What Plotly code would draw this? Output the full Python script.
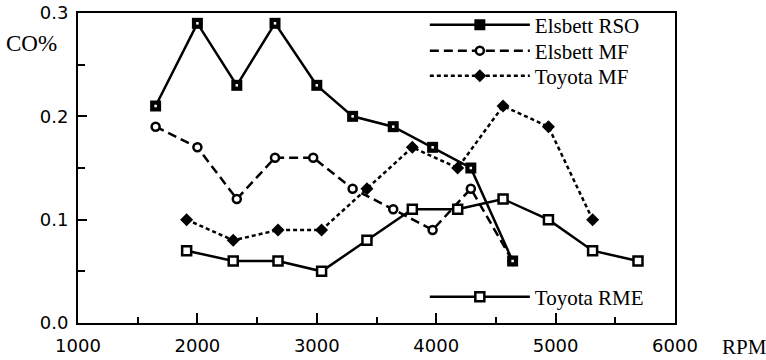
import plotly.graph_objects as go

# ---- data ----
rso_rpm = [1650, 2000, 2330, 2650, 3000, 3300, 3640, 3970, 4290, 4640]
rso_co = [0.21, 0.29, 0.23, 0.29, 0.23, 0.20, 0.19, 0.17, 0.15, 0.06]

emf_rpm = [1650, 2000, 2330, 2650, 2970, 3300, 3640, 3970, 4290, 4640]
emf_co = [0.19, 0.17, 0.12, 0.16, 0.16, 0.13, 0.11, 0.09, 0.13, 0.06]

tmf_rpm = [1910, 2300, 2675, 3040, 3420, 3800, 4180, 4560, 4940, 5310]
tmf_co = [0.10, 0.08, 0.09, 0.09, 0.13, 0.17, 0.15, 0.21, 0.19, 0.10]

rme_rpm = [1910, 2300, 2675, 3040, 3420, 3800, 4180, 4560, 4940, 5310, 5690]
rme_co = [0.07, 0.06, 0.06, 0.05, 0.08, 0.11, 0.11, 0.12, 0.10, 0.07, 0.06]

x_ticks = [1000, 2000, 3000, 4000, 5000, 6000]
y_ticks = [0.0, 0.1, 0.2, 0.3]

SERIF = "Liberation Serif, Times New Roman, serif"
SANS = "DejaVu Sans, Arial, sans-serif"

fig = go.Figure()

fig.add_trace(go.Scatter(
    x=emf_rpm, y=emf_co, name="Elsbett MF", mode="lines+markers",
    line=dict(color="black", width=2.5, dash="9px,5px"),
    marker=dict(symbol="circle", size=8, color="white", line=dict(color="black", width=2.5)),
    legend="legend2"))
fig.add_trace(go.Scatter(
    x=tmf_rpm, y=tmf_co, name="Toyota MF", mode="lines+markers",
    line=dict(color="black", width=2.5, dash="4px,3px"),
    marker=dict(symbol="diamond", size=10, color="black"),
    legend="legend3"))
fig.add_trace(go.Scatter(
    x=rme_rpm, y=rme_co, name="Toyota RME", mode="lines+markers",
    line=dict(color="black", width=2.5),
    marker=dict(symbol="square", size=9, color="white", line=dict(color="black", width=2.5)),
    legend="legend4"))
fig.add_trace(go.Scatter(
    x=rso_rpm, y=rso_co, name="Elsbett RSO", mode="lines+markers",
    line=dict(color="black", width=2.5),
    marker=dict(symbol="square", size=11, color="black"),
    legend="legend"))
fig.add_trace(go.Scatter(
    x=rso_rpm, y=rso_co, mode="markers", showlegend=False, hoverinfo="skip",
    marker=dict(symbol="square", size=2.5, color="white")))

L = 78
T = 13
PW = 597
PH = 310


def leg(ycenter_px):
    return dict(x=(432 - L) / PW - 0.012, y=(T + PH - ycenter_px) / PH,
                xanchor="left", yanchor="middle",
                font=dict(family=SERIF, size=21, color="black"),
                bgcolor="rgba(0,0,0,0)", itemwidth=100)


fig.update_layout(
    width=766, height=360,
    margin=dict(l=L, r=766 - L - PW, t=T, b=360 - T - PH, autoexpand=False),
    paper_bgcolor="white", plot_bgcolor="white",
    legend=leg(25), legend2=leg(51), legend3=leg(76), legend4=leg(297),
    xaxis=dict(range=[1000, 6000], tickvals=x_ticks, ticktext=[str(v) for v in x_ticks],
               showgrid=False, zeroline=False, showline=True, linecolor="black",
               linewidth=2, mirror=True, ticks="inside", ticklen=10, tickwidth=2,
               tickcolor="black", ticklabelstandoff=5, automargin=False,
               minor=dict(dtick=500, ticks="inside", ticklen=6, tickwidth=2, tickcolor="black"),
               tickfont=dict(family=SANS, size=18, color="black")),
    yaxis=dict(range=[0, 0.3], tickvals=y_ticks, ticktext=["%.1f" % v for v in y_ticks],
               showgrid=False, zeroline=False, showline=True, linecolor="black",
               linewidth=2, mirror=True, ticks="inside", ticklen=9, tickwidth=2,
               tickcolor="black", automargin=False, ticklabelstandoff=4,
               minor=dict(dtick=0.05, ticks="inside", ticklen=7, tickwidth=2, tickcolor="black"),
               tickfont=dict(family=SANS, size=18, color="black")),
    showlegend=True,
)

fig.add_annotation(text="CO%", xref="paper", yref="paper", x=(4 - L) / PW, y=(T + PH - 44) / PH,
                   xanchor="left", yanchor="middle", showarrow=False,
                   font=dict(family=SERIF, size=23, color="black"))
fig.add_annotation(text="RPM", xref="paper", yref="paper", x=(720 - L) / PW, y=(T + PH - 347) / PH,
                   xanchor="left", yanchor="middle", showarrow=False,
                   font=dict(family=SERIF, size=21, color="black"))

fig.write_html("out.html", config={"displayModeBar": False},
               post_script="document.body.style.margin='0px';")
